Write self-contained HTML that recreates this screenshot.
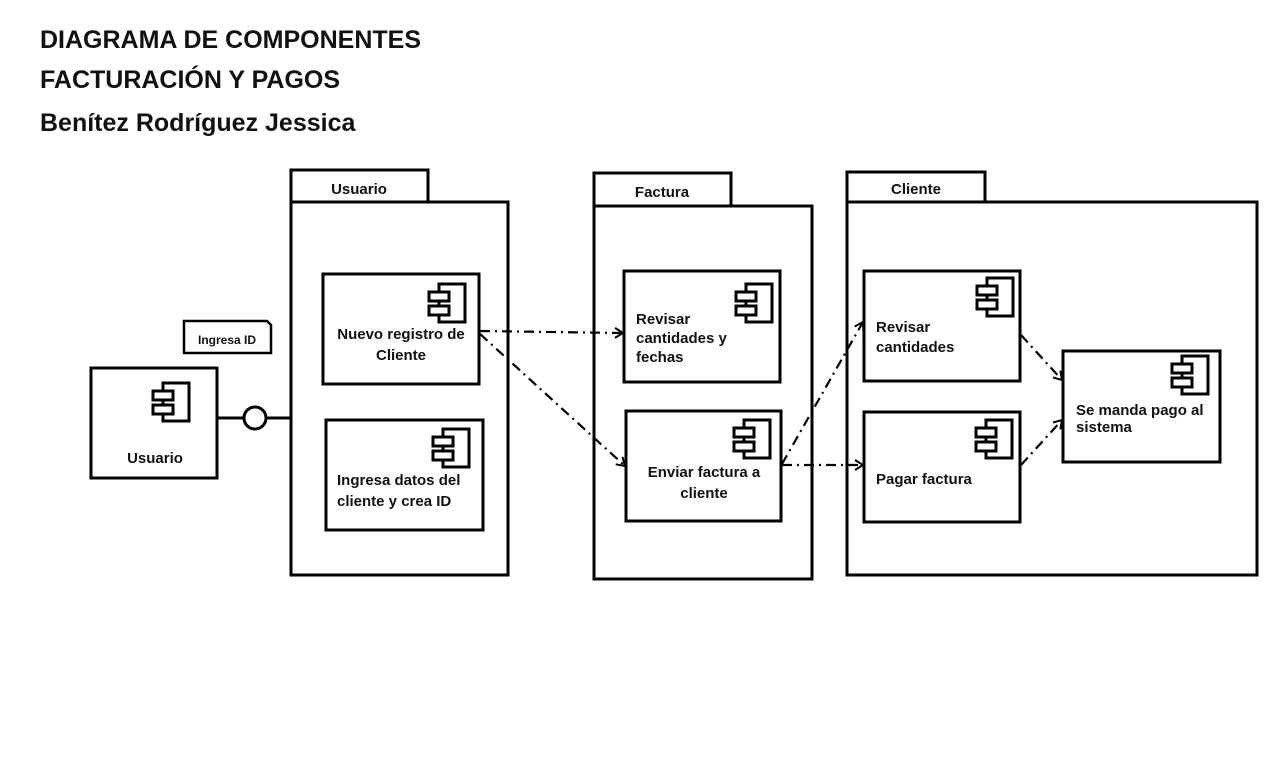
<!DOCTYPE html>
<html><head><meta charset="utf-8"><style>
body{margin:0;background:#fff;width:1280px;height:777px;overflow:hidden;font-family:"Liberation Sans",sans-serif}
.t{position:absolute;left:40px;font-weight:bold;font-size:25px;color:#111}
</style></head><body>
<div class="t" style="top:26px">DIAGRAMA DE COMPONENTES</div>
<div class="t" style="top:66px">FACTURACIÓN Y PAGOS</div>
<div class="t" style="top:109px">Benítez Rodríguez Jessica</div>
<svg width="1280" height="777" style="position:absolute;left:0;top:0" font-family="Liberation Sans, sans-serif">
<defs>
<marker id="a" markerWidth="12" markerHeight="12" refX="10" refY="6" orient="auto" markerUnits="userSpaceOnUse">
<path d="M2,1 L10,6 L2,11" fill="none" stroke="#000" stroke-width="2"/></marker>
<g id="ic"><rect x="10" y="0" width="26" height="38" fill="#fff" stroke="#000" stroke-width="3"/>
<rect x="0" y="8" width="20" height="9" fill="#fff" stroke="#000" stroke-width="3"/>
<rect x="0" y="22" width="20" height="9" fill="#fff" stroke="#000" stroke-width="3"/></g>
</defs>
<g fill="#fff" stroke="#000" stroke-width="3">
<rect x="291" y="170" width="137" height="32"/><rect x="291" y="202" width="217" height="373"/>
<rect x="594" y="173" width="137" height="33"/><rect x="594" y="206" width="218" height="373"/>
<rect x="847" y="172" width="138" height="30"/><rect x="847" y="202" width="410" height="373"/>
<rect x="91" y="368" width="126" height="110"/>
<rect x="323" y="274" width="156" height="110"/>
<rect x="326" y="420" width="157" height="110"/>
<rect x="624" y="271" width="156" height="111"/>
<rect x="626" y="411" width="155" height="110"/>
<rect x="864" y="271" width="156" height="110"/>
<rect x="864" y="412" width="156" height="110"/>
<rect x="1063" y="351" width="157" height="111"/>
<path d="M184,321 H267 L271,325 V353 H184 Z" stroke-width="2.5"/>
<line x1="217" y1="418" x2="244" y2="418"/><line x1="266" y1="418" x2="291" y2="418"/>
<circle cx="255" cy="418" r="11"/>
</g>
<use href="#ic" x="153" y="383"/>
<use href="#ic" x="429" y="284"/>
<use href="#ic" x="433" y="429"/>
<use href="#ic" x="736" y="284"/>
<use href="#ic" x="734" y="420"/>
<use href="#ic" x="977" y="278"/>
<use href="#ic" x="976" y="420"/>
<use href="#ic" x="1172" y="356"/>
<g stroke="#000" stroke-width="2.2" fill="none" stroke-dasharray="10,5,2,5" marker-end="url(#a)">
<line x1="480" y1="331" x2="623" y2="333"/>
<line x1="480" y1="334" x2="625" y2="466"/>
<line x1="782" y1="464" x2="863" y2="322"/>
<line x1="782" y1="465" x2="863" y2="465"/>
<line x1="1021" y1="335" x2="1062" y2="380"/>
<line x1="1021" y1="465" x2="1062" y2="420"/>
</g>
<g font-weight="bold" font-size="15" fill="#111">
<text x="359" y="194" text-anchor="middle" font-size="15">Usuario</text>
<text x="662" y="197" text-anchor="middle" font-size="15">Factura</text>
<text x="916" y="194" text-anchor="middle" font-size="15">Cliente</text>
<text x="227" y="344" text-anchor="middle" font-size="12">Ingresa ID</text>
<text x="155" y="463" text-anchor="middle">Usuario</text>
<text x="401" y="339" text-anchor="middle">Nuevo registro de</text>
<text x="401" y="360" text-anchor="middle">Cliente</text>
<text x="337" y="485">Ingresa datos del</text>
<text x="337" y="506">cliente y crea ID</text>
<text x="636" y="324">Revisar</text>
<text x="636" y="343">cantidades y</text>
<text x="636" y="362">fechas</text>
<text x="704" y="477" text-anchor="middle">Enviar factura a</text>
<text x="704" y="498" text-anchor="middle">cliente</text>
<text x="876" y="332">Revisar</text>
<text x="876" y="352">cantidades</text>
<text x="876" y="484">Pagar factura</text>
<text x="1076" y="415">Se manda pago al</text>
<text x="1076" y="432">sistema</text>
</g>
</svg>
</body></html>
